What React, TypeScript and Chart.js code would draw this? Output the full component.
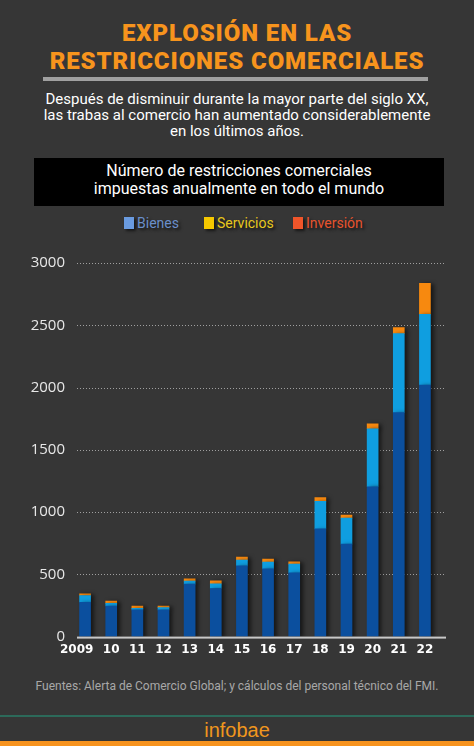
import React, { useEffect, useRef } from "react";
import { Chart, registerables } from "chart.js";

Chart.register(...registerables);

const years = ["2009", "10", "11", "12", "13", "14", "15", "16", "17", "18", "19", "20", "21", "22"];
const bienes = [276, 246, 214, 214, 421, 386, 568, 544, 512, 865, 742, 1203, 1798, 2020];
const servicios = [54, 21, 13, 19, 24, 38, 46, 54, 70, 222, 209, 466, 635, 568];
const inversion = [13, 19, 19, 13, 19, 24, 24, 24, 19, 29, 24, 40, 48, 249];
const yTicks = [0, 500, 1000, 1500, 2000, 2500, 3000];

const BG = "#363636";

const gridPlugin = {
  id: "customGrid",
  beforeDatasetsDraw(chart: any) {
    const { ctx, chartArea, scales } = chart;
    const y = scales.y;
    ctx.save();
    ctx.strokeStyle = "#a0a0a0";
    ctx.lineWidth = 1;
    ctx.setLineDash([1, 2]);
    yTicks.forEach((v) => {
      if (v === 0) return;
      const py = Math.round(y.getPixelForValue(v)) + 0.5;
      ctx.beginPath();
      ctx.moveTo(chartArea.left + 5, py);
      ctx.lineTo(chartArea.right + 8, py);
      ctx.stroke();
    });
    ctx.restore();
  },
  beforeDatasetDraw(chart: any) {
    const ctx = chart.ctx;
    ctx.shadowColor = "rgba(0,0,0,0.6)";
    ctx.shadowBlur = 4;
    ctx.shadowOffsetX = 3;
    ctx.shadowOffsetY = 1;
  },
  afterDatasetDraw(chart: any) {
    const ctx = chart.ctx;
    ctx.shadowColor = "rgba(0,0,0,0)";
    ctx.shadowBlur = 0;
    ctx.shadowOffsetX = 0;
    ctx.shadowOffsetY = 0;
  },
  afterDatasetsDraw(chart: any) {
    const { ctx, chartArea, scales } = chart;
    const py = scales.y.getPixelForValue(0);
    ctx.save();
    ctx.fillStyle = "#c8c8c8";
    ctx.fillRect(chartArea.left + 5, py, chartArea.right + 8 - (chartArea.left + 5), 2);
    ctx.restore();
  },
};

function BarChart() {
  const ref = useRef<HTMLCanvasElement | null>(null);
  useEffect(() => {
    if (!ref.current) return;
    const chart = new Chart(ref.current, {
      type: "bar",
      data: {
        labels: years,
        datasets: [
          { label: "Bienes", data: bienes, backgroundColor: "#0b4f9e", barThickness: 11 },
          { label: "Servicios", data: servicios, backgroundColor: "#0f9ee0", barThickness: 11 },
          { label: "Inversión", data: inversion, backgroundColor: "#f7890f", barThickness: 11 },
        ],
      },
      options: {
        responsive: false,
        animation: false,
        maintainAspectRatio: false,
        layout: { padding: { top: 23, right: 36, bottom: 3, left: 0 } },
        plugins: { legend: { display: false }, tooltip: { enabled: false } },
        scales: {
          x: {
            stacked: true,
            grid: { display: false, drawTicks: false },
            border: { display: false },
            ticks: {
              color: "#ffffff",
              font: { family: "DejaVu Sans", weight: "bold", size: 12 },
              padding: 6,
              maxRotation: 0,
              autoSkip: false,
              callback: (_v: any, i: number) => (i === 0 ? years[i] + "    " : years[i]),
            },
          },
          y: {
            stacked: true,
            min: 0,
            max: 3000,
            grid: { display: false, drawTicks: false },
            border: { display: false },
            afterFit: (s: any) => {
              s.width = 72;
            },
            ticks: {
              stepSize: 500,
              color: "#e8e8e8",
              font: { family: "Open Sans", size: 15 },
              padding: 7,
              callback: (v: any) => String(v),
            },
          },
        },
      },
      plugins: [gridPlugin],
    });
    return () => chart.destroy();
  }, []);
  return (
    <canvas
      ref={ref}
      width={474}
      height={426}
      style={{ position: "absolute", left: 0, top: 240, width: 474, height: 426 }}
    />
  );
}

export default function App() {
  useEffect(() => {
    document.body.style.margin = "0";
    document.body.style.background = BG;
  }, []);
  const legendItem = (left: number, sq: string, txt: string, label: string) => (
    <div style={{ position: "absolute", left, top: 214, height: 18, display: "flex", alignItems: "center" }}>
      <div style={{ width: 10, height: 12, background: sq, boxShadow: "2px 2px 3px rgba(0,0,0,0.6)", marginRight: 3 }} />
      <span style={{ color: txt, fontFamily: "Roboto", fontSize: 14, textShadow: "2px 2px 3px rgba(0,0,0,0.7)" }}>{label}</span>
    </div>
  );
  return (
    <div style={{ position: "fixed", left: 0, top: 0, width: 474, height: 746, background: BG, overflow: "hidden" }}>
      <div
        style={{
          position: "absolute",
          left: 0,
          top: 19,
          width: 474,
          textAlign: "center",
          color: "#f7941d",
          fontFamily: "Roboto",
          fontWeight: 900,
          fontSize: 24,
          lineHeight: "28px",
          letterSpacing: 0.9,
        }}
      >
        EXPLOSIÓN EN LAS
        <br />
        RESTRICCIONES COMERCIALES
      </div>
      <div style={{ position: "absolute", left: 43, top: 77, width: 385, height: 4, background: "#a0a0a0" }} />
      <div
        style={{
          position: "absolute",
          left: 0,
          top: 91,
          width: 474,
          textAlign: "center",
          color: "#ffffff",
          fontFamily: "Roboto",
          fontSize: 15,
          lineHeight: "16px",
        }}
      >
        Después de disminuir durante la mayor parte del siglo XX,
        <br />
        las trabas al comercio han aumentado considerablemente
        <br />
        en los últimos años.
      </div>
      <div style={{ position: "absolute", left: 34, top: 158, width: 410, height: 48, background: "#000000" }}>
        <div
          style={{
            position: "absolute",
            left: 0,
            top: 4,
            width: 410,
            textAlign: "center",
            color: "#ffffff",
            fontFamily: "Roboto",
            fontSize: 16,
            lineHeight: "18px",
          }}
        >
          Número de restricciones comerciales
          <br />
          impuestas anualmente en todo el mundo
        </div>
      </div>
      {legendItem(124, "#6a9be0", "#6a8fca", "Bienes")}
      {legendItem(204, "#f5c800", "#e8c81c", "Servicios")}
      {legendItem(293, "#f0552a", "#e8532c", "Inversión")}
      <BarChart />
      <div
        style={{
          position: "absolute",
          left: 0,
          top: 679,
          width: 474,
          textAlign: "center",
          color: "#a8a8a8",
          fontFamily: "Roboto",
          fontSize: 12,
          lineHeight: "15px",
        }}
      >
        Fuentes: Alerta de Comercio Global; y cálculos del personal técnico del FMI.
      </div>
      <div style={{ position: "absolute", left: 0, top: 715, width: 474, height: 1.5, background: "#2c6a5a" }} />
      <div
        style={{
          position: "absolute",
          left: 0,
          top: 719,
          width: 474,
          textAlign: "center",
          color: "#f0961e",
          fontFamily: "Liberation Sans",
          fontSize: 20,
          lineHeight: "22px",
        }}
      >
        infobae
      </div>
      <div style={{ position: "absolute", left: 0, top: 741, width: 474, height: 5, background: "#f7931e" }} />
    </div>
  );
}
